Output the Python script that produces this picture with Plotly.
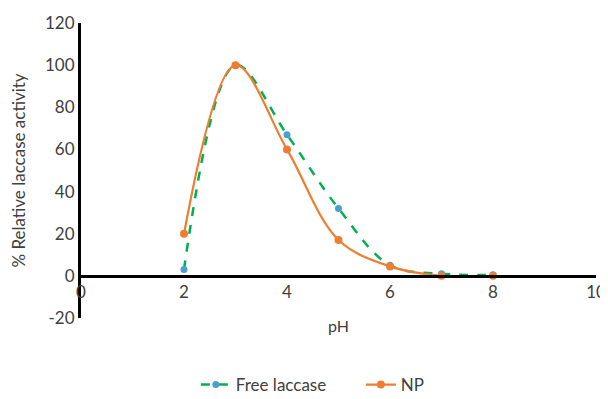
import plotly.graph_objects as go

ph = [2, 3, 4, 5, 6, 7, 8]
free_laccase = [3, 100, 67, 32, 5, 1, 0.5]
np_values = [20, 100, 60, 17, 4.5, 0, 0]

x_ticks = [0, 2, 4, 6, 8, 10]
y_ticks = [-20, 0, 20, 40, 60, 80, 100, 120]

fig = go.Figure()
fig.add_trace(go.Scatter(
    x=ph, y=free_laccase, name="Free laccase", mode="lines+markers",
    line=dict(color="#00B050", width=2.5, dash="dash", shape="spline", smoothing=1),
    marker=dict(color="#4A9FD0", size=7),
))
fig.add_trace(go.Scatter(
    x=ph, y=np_values, name="NP", mode="lines+markers",
    line=dict(color="#ED7D31", width=2.2, shape="spline", smoothing=1),
    marker=dict(color="#ED7D31", size=8),
))

font = dict(family="Lato, Open Sans, sans-serif", size=17, color="#404040")
fig.update_layout(
    width=600, height=391,
    margin=dict(l=73, r=12, t=15, b=81),
    paper_bgcolor="white", plot_bgcolor="white",
    font=font,
    showlegend=True,
    legend=dict(orientation="h", x=0.223, xanchor="left",
                yref="container", y=1 - 377 / 391, yanchor="middle",
                font=dict(size=17, color="#404040"), itemwidth=30, entrywidth=120),
    xaxis=dict(
        range=[0, 10], tickvals=x_ticks, ticktext=[str(v) for v in x_ticks],
        showgrid=False, zeroline=False, showline=True, linecolor="black", linewidth=3,
        anchor="free", position=20 / 140, ticks="", automargin=False,
        title=dict(text="pH", standoff=19, font=dict(size=16)),
        tickfont=dict(size=17),
    ),
    yaxis=dict(
        range=[-20, 120], tickvals=y_ticks, ticktext=[str(v) for v in y_ticks],
        showgrid=False, zeroline=False, showline=True, linecolor="black", linewidth=3,
        ticks="", automargin=False,
        title=dict(text="% Relative laccase activity", standoff=16, font=dict(size=17)),
        tickfont=dict(size=17),
    ),
)

fig.write_html("out.html")
